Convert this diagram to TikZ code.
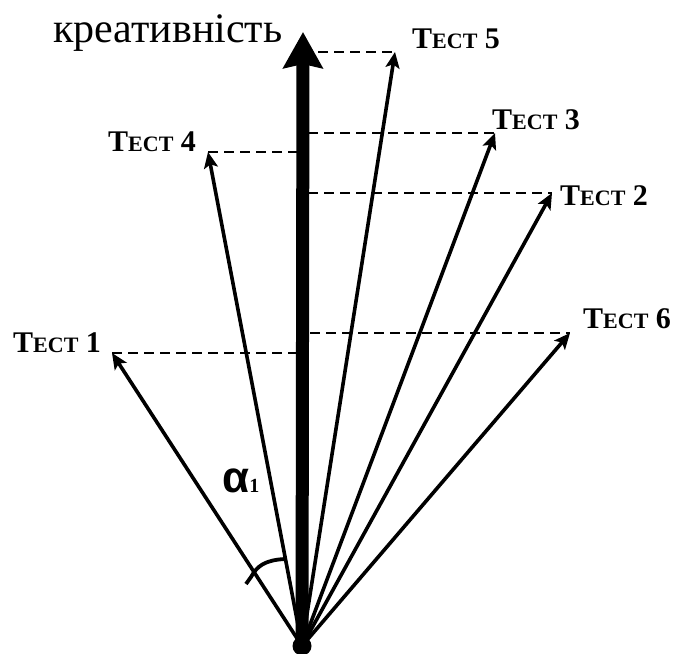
\documentclass[tikz,border=0pt]{standalone}
\usepackage{fontspec}
\setmainfont{Liberation Serif}
\newfontfamily\greekfont{Liberation Sans}
\usetikzlibrary{arrows.meta}
\newcommand{\testlbl}[1]{{\bfseries\fontsize{30}{30}\selectfont Т\fontsize{22}{22}\selectfont ЕСТ\fontsize{30}{30}\selectfont\ #1}}
\begin{document}
\begin{tikzpicture}[x=1pt,y=-1pt,
  vec/.style={line width=3.6pt,-{Stealth[length=16pt,width=14pt,inset=3.5pt]}},
  proj/.style={line width=2.6pt,dash pattern=on 10pt off 6pt},
  axisline/.style={line width=13pt,-{Stealth[length=36pt,width=39pt,inset=4pt]}},
  lbl/.style={anchor=base west,inner sep=0pt}]
\useasboundingbox (0,0) rectangle (674,653);
% origin and axis
\coordinate (O) at (302,646);
\coordinate (top) at (303,32);
% tips
\coordinate (t1) at (112,353);
\coordinate (t2) at (552,193);
\coordinate (t3) at (495,133);
\coordinate (t4) at (208,152);
\coordinate (t5) at (395,52);
\coordinate (t6) at (570,333);
% projection points on axis
\coordinate (p1) at (297,353);
\coordinate (p2) at (308,193);
\coordinate (p3) at (308,133);
\coordinate (p4) at (297,152);
\coordinate (p5) at (318,52);
\coordinate (p6) at (310,333);
% dashed projections
\draw[proj] (p5) -- (t5);
\draw[proj] (p3) -- (t3);
\draw[proj] (t4) -- (p4);
\draw[proj] (p2) -- (t2);
\draw[proj] (p6) -- (t6);
\draw[proj] (t1) -- (p1);
% vectors
\foreach \t in {t1,t2,t3,t4,t5,t6} \draw[vec] (O) -- (\t);
% axis
\draw[axisline] (O) -- (top);
\fill (O) circle (9.5pt);
% angle mark
\draw[line width=3.8pt] (246,584) -- (251,577) .. controls (257,566) and (265,560) .. (285,559);
% labels
\node[lbl] (kr) at (53,42) {\fontsize{42}{42}\selectfont креативність};
\node[lbl] (l5) at (412,48) {\testlbl{5}};
\node[lbl] (l4) at (108,151) {\testlbl{4}};
\node[lbl] (l3) at (492,129) {\testlbl{3}};
\node[lbl] (l2) at (560,205) {\testlbl{2}};
\node[lbl] (l6) at (583,328) {\testlbl{6}};
\node[lbl] (l1) at (13,352) {\testlbl{1}};
\node[lbl] (al) at (222,492) {{\greekfont\bfseries\fontsize{44}{44}\selectfont α}{\bfseries\fontsize{20}{20}\selectfont 1}};
\end{tikzpicture}
\end{document}
